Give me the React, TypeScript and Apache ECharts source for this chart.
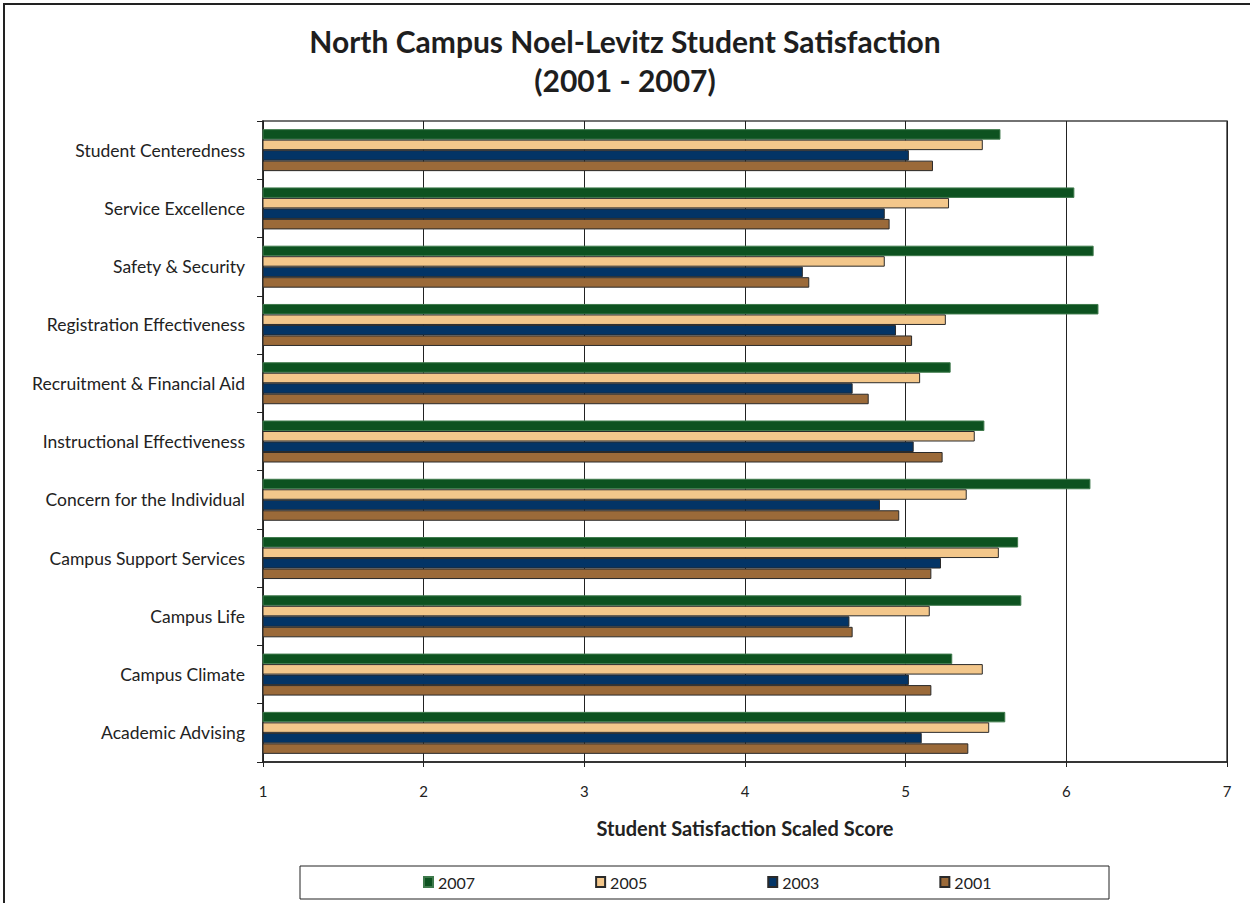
import React, { useEffect, useRef } from "react";
import * as echarts from "echarts";

const categories = [
  "Academic Advising",
  "Campus Climate",
  "Campus Life",
  "Campus Support Services",
  "Concern for the Individual",
  "Instructional Effectiveness",
  "Recruitment & Financial Aid",
  "Registration Effectiveness",
  "Safety & Security",
  "Service Excellence",
  "Student Centeredness",
];

const s2007 = [5.62, 5.29, 5.72, 5.7, 6.15, 5.49, 5.28, 6.2, 6.17, 6.05, 5.59];
const s2005 = [5.52, 5.48, 5.15, 5.58, 5.38, 5.43, 5.09, 5.25, 4.87, 5.27, 5.48];
const s2003 = [5.1, 5.02, 4.65, 5.22, 4.84, 5.05, 4.67, 4.94, 4.36, 4.87, 5.02];
const s2001 = [5.39, 5.16, 4.67, 5.16, 4.96, 5.23, 4.77, 5.04, 4.4, 4.9, 5.17];

const seriesNames = ["2007", "2005", "2003", "2001"];
const seriesData = [s2007, s2005, s2003, s2001];
const seriesColors = ["#0d5220", "#f3c78b", "#033466", "#9b6a39"];
const seriesBorders = ["#3f7a4c", "#2a2a2a", "#2a2a2a", "#2a2a2a"];

const FONT = "Lato, 'Open Sans', sans-serif";

export default function App() {
  const ref = useRef<HTMLDivElement>(null);
  useEffect(() => {
    if (!ref.current) return;
    const chart = echarts.init(ref.current, null, { renderer: "svg" });
    chart.setOption({
      animation: false,
      backgroundColor: "#ffffff",
      textStyle: { fontFamily: FONT },
      title: {
        text: "North Campus Noel-Levitz Student Satisfaction\n(2001 - 2007)",
        left: "center",
        top: 16,
        textStyle: {
          fontFamily: FONT,
          fontSize: 30,
          fontWeight: "bold",
          color: "#1e1e1e",
          lineHeight: 39,
        },
      },
      graphic: [
        {
          type: "rect",
          shape: { x: 4, y: 4, width: 1300, height: 1000 },
          style: { fill: "none", stroke: "#222", lineWidth: 2 },
          silent: true,
        },
        {
          type: "rect",
          shape: { x: 300, y: 866, width: 809, height: 33 },
          style: { fill: "#fff", stroke: "#222", lineWidth: 1 },
          silent: true,
        },
      ],
      legend: {
        data: seriesNames,
        left: 418,
        top: 869,
        itemWidth: 9,
        itemHeight: 10,
        itemGap: 120,
        icon: "rect",
        textStyle: { fontFamily: FONT, fontSize: 16, color: "#222" },
      },
      grid: {
        left: 263,
        right: 23,
        top: 121,
        bottom: 141,
        show: true,
        borderColor: "#444",
        borderWidth: 1.5,
        containLabel: false,
      },
      xAxis: {
        type: "value",
        min: 1,
        max: 7,
        interval: 1,
        name: "Student Satisfaction Scaled Score",
        nameLocation: "middle",
        nameGap: 56,
        nameTextStyle: { fontFamily: FONT, fontSize: 20, fontWeight: "bold", color: "#222" },
        axisLine: { show: true, lineStyle: { color: "#222", width: 1.5 } },
        axisTick: { show: true, length: 5, lineStyle: { color: "#222" } },
        axisLabel: { fontFamily: FONT, fontSize: 15, color: "#222", margin: 21 },
        splitLine: { show: true, lineStyle: { color: "#222", width: 1 } },
      },
      yAxis: {
        type: "category",
        data: categories,
        axisLine: { show: true, lineStyle: { color: "#222", width: 1.5 } },
        axisTick: { show: true, length: 6, lineStyle: { color: "#222" } },
        axisLabel: { fontFamily: FONT, fontSize: 17.5, color: "#222", margin: 18 },
        splitLine: { show: false },
      },
      series: seriesNames.map((name, i) => ({
        name,
        type: "bar",
        data: seriesData[i],
        barWidth: 10.5,
        barGap: "0%",
        itemStyle: {
          color: seriesColors[i],
          borderColor: seriesBorders[i],
          borderWidth: 1,
        },
      })),
    });
    return () => chart.dispose();
  }, []);
  return (
    <div
      ref={ref}
      style={{ position: "absolute", left: 0, top: 0, width: 1250, height: 903 }}
    />
  );
}
